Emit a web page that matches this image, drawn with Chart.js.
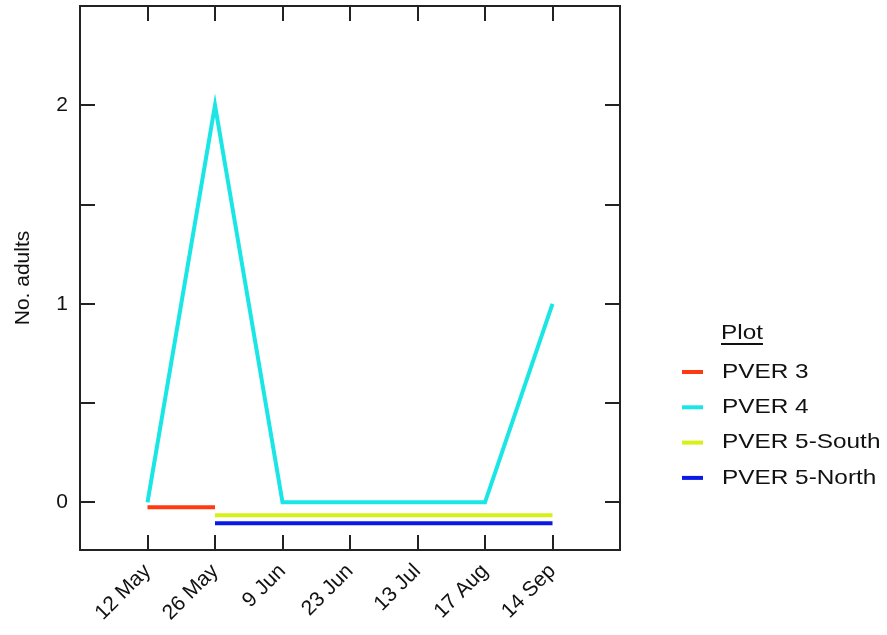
<!DOCTYPE html>
<html>
<head>
<meta charset="utf-8">
<script src="https://cdn.jsdelivr.net/npm/chart.js@4.4.0/dist/chart.umd.min.js"></script>
<style>
  html, body { margin: 0; padding: 0; background: #fff; }
  #wrap { width: 887px; height: 635px; }
</style>
</head>
<body>
<div id="wrap"><canvas id="myChart" width="887" height="635"></canvas></div>
<script>
// categories (sampling dates)
var dates = ['12 May', '26 May', '9 Jun', '23 Jun', '13 Jul', '17 Aug', '14 Sep'];
// series values (zero lines drawn slightly offset, as in the original)
var pver3 = [-0.025, -0.025, null, null, null, null, null];
var pver4 = [0, 2, 0, 0, 0, 0, 1];
var pver5South = [null, -0.065, -0.065, -0.065, -0.065, -0.065, -0.065];
var pver5North = [null, -0.105, -0.105, -0.105, -0.105, -0.105, -0.105];
// tick values
var yTicks = [0, 0.5, 1, 1.5, 2];
var yLabels = { 0: '0', 1: '1', 2: '2' };

var FONT = 'Liberation Sans, Arial, sans-serif';

function pts(vals) {
    var out = [];
    vals.forEach(function(v, i) {
        if (v !== null) out.push({ x: i, y: v });
    });
    return out;
}

// frame, inward ticks and legend
var framePlugin = {
    id: 'frame',
    afterDraw: function(chart) {
        var ctx = chart.ctx;
        var a = chart.chartArea;
        var xs = chart.scales.x, ys = chart.scales.y;
        var len = 15;
        ctx.save();
        ctx.strokeStyle = '#222';
        ctx.lineWidth = 2;
        ctx.strokeRect(a.left, a.top, a.right - a.left, a.bottom - a.top);
        ctx.beginPath();
        dates.forEach(function(d, i) {
            var px = Math.round(xs.getPixelForValue(i));
            ctx.moveTo(px, a.bottom); ctx.lineTo(px, a.bottom - len);
            ctx.moveTo(px, a.top); ctx.lineTo(px, a.top + len);
        });
        yTicks.forEach(function(v) {
            var py = Math.round(ys.getPixelForValue(v));
            ctx.moveTo(a.left, py); ctx.lineTo(a.left + len, py);
            ctx.moveTo(a.right, py); ctx.lineTo(a.right - len, py);
        });
        ctx.stroke();

        // legend (text slightly wider, as in the original)
        ctx.fillStyle = '#111';
        ctx.font = '21px ' + FONT;
        ctx.textBaseline = 'middle';
        ctx.textAlign = 'left';
        var sx = 1.16;
        var lx = 721, ly = 333;
        ctx.save();
        ctx.translate(lx, ly);
        ctx.scale(sx, 1);
        ctx.fillText('Plot', 0, 0);
        ctx.restore();
        var w = ctx.measureText('Plot').width * sx;
        ctx.fillRect(lx, ly + 10, w, 2);
        chart.data.datasets.forEach(function(ds, i) {
            var y = 372 + i * 35.3;
            ctx.strokeStyle = ds.borderColor;
            ctx.lineWidth = 4;
            ctx.beginPath();
            ctx.moveTo(682, y); ctx.lineTo(703, y);
            ctx.stroke();
            ctx.fillStyle = '#111';
            ctx.save();
            ctx.translate(722, y);
            ctx.scale(sx, 1);
            ctx.fillText(ds.label, 0, 0);
            ctx.restore();
        });
        ctx.restore();
    }
};

var ctx = document.getElementById('myChart').getContext('2d');
var myChart = new Chart(ctx, {
    type: 'line',
    data: {
        datasets: [{
            label: 'PVER 3',
            data: pts(pver3),
            borderColor: '#ff3a10'
        }, {
            label: 'PVER 4',
            data: pts(pver4),
            borderColor: '#1ae6e6'
        }, {
            label: 'PVER 5-South',
            data: pts(pver5South),
            borderColor: '#d6f01a'
        }, {
            label: 'PVER 5-North',
            data: pts(pver5North),
            borderColor: '#0a1ae6'
        }]
    },
    options: {
        responsive: false,
        animation: false,
        layout: { padding: { top: 6, right: 267, left: 0, bottom: 0 } },
        elements: {
            line: { borderWidth: 4, tension: 0, borderCapStyle: 'butt' },
            point: { radius: 0 }
        },
        plugins: {
            legend: { display: false },
            tooltip: { enabled: false }
        },
        scales: {
            x: {
                type: 'linear',
                min: -1,
                max: 7,
                grid: { display: false, drawTicks: false },
                border: { display: false },
                afterFit: function(s) {
                    s.height = 85;
                    s.paddingLeft = 0;
                    s.paddingRight = 0;
                },
                afterBuildTicks: function(s) {
                    s.ticks = dates.map(function(d, i) { return { value: i }; });
                },
                ticks: {
                    autoSkip: false,
                    minRotation: 45,
                    maxRotation: 45,
                    padding: 9,
                    color: '#111',
                    font: { family: FONT, size: 21 },
                    callback: function(v) { return dates[v] || ''; }
                }
            },
            y: {
                min: -0.24,
                max: 2.5,
                grid: { display: false, drawTicks: false },
                border: { display: false },
                afterFit: function(s) {
                    s.width = 80;
                    s.paddingTop = 0;
                    s.paddingBottom = 0;
                },
                afterBuildTicks: function(s) {
                    s.ticks = yTicks.map(function(v) { return { value: v }; });
                },
                ticks: {
                    padding: 12,
                    color: '#111',
                    font: { family: FONT, size: 21 },
                    callback: function(v) { return yLabels[v] || ''; }
                },
                title: {
                    display: true,
                    text: 'No. adults',
                    color: '#111',
                    font: { family: FONT, size: 21 },
                    padding: { top: 11, bottom: 0 }
                }
            }
        }
    },
    plugins: [framePlugin]
});
</script>
</body>
</html>
